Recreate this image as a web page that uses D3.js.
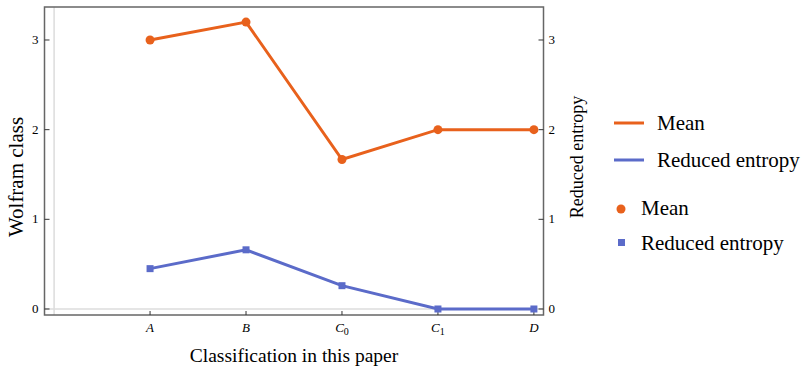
<!DOCTYPE html>
<html>
<head>
    <meta charset="UTF-8">
    <script src="https://cdn.jsdelivr.net/npm/d3@7"></script>
</head>
<body style="margin:0">
    <div id="chart"></div>
    <script>
        // ---------- data ----------
        const categories = ["A", "B", "C0", "C1", "D"];
        const xPos = [1, 2, 3, 4, 5];
        const meanValues = [3, 3.2, 1.667, 2, 2];
        const entropyValues = [0.45, 0.66, 0.26, 0, 0];
        const yTicks = [0, 1, 2, 3];

        const orange = "#e8611c";
        const blue = "#5b6bc9";
        const serif = "Liberation Serif";

        const W = 802, H = 369;
        const plotL = 44.5, plotR = 543.5, plotT = 7, plotB = 315;

        const svg = d3.select("#chart").append("svg")
            .attr("width", W).attr("height", H);

        // helper so every label gets the serif face
        function label(sel) {
            return sel.append("text").attr("font-family", serif);
        }

        const x = d3.scaleLinear().domain([-0.1, 5.1]).range([plotL, plotR]);
        const y = d3.scaleLinear().domain([-0.067, 3.368]).range([plotB, plotT]);

        // light gray lines at x=0 and y=0
        svg.append("line")
            .attr("x1", x(0)).attr("x2", x(0)).attr("y1", plotT).attr("y2", plotB)
            .attr("stroke", "#dcdcdc").attr("stroke-width", 1.5);
        svg.append("line")
            .attr("x1", plotL).attr("x2", plotR).attr("y1", y(0)).attr("y2", y(0))
            .attr("stroke", "#dcdcdc").attr("stroke-width", 1.5);

        // frame
        svg.append("rect")
            .attr("x", plotL).attr("y", plotT)
            .attr("width", plotR - plotL).attr("height", plotB - plotT)
            .attr("fill", "none").attr("stroke", "#666").attr("stroke-width", 1.5);

        // left & right y ticks
        yTicks.forEach(t => {
            svg.append("line").attr("x1", plotL).attr("x2", plotL + 5)
                .attr("y1", y(t)).attr("y2", y(t)).attr("stroke", "#333");
            svg.append("line").attr("x1", plotR - 5).attr("x2", plotR)
                .attr("y1", y(t)).attr("y2", y(t)).attr("stroke", "#333");
            label(svg).attr("x", plotL - 6).attr("y", y(t) + 4)
                .attr("text-anchor", "end").attr("font-size", 13).text(t);
            label(svg).attr("x", plotR + 5).attr("y", y(t) + 4)
                .attr("text-anchor", "start").attr("font-size", 13).text(t);
        });

        // x ticks with labels (italic, subscripts)
        categories.forEach((c, i) => {
            const px = x(xPos[i]);
            svg.append("line").attr("x1", px).attr("x2", px)
                .attr("y1", plotB).attr("y2", plotB - 4).attr("stroke", "#333");
            const t = label(svg).attr("x", px).attr("y", plotB + 17)
                .attr("text-anchor", "middle").attr("font-size", 13);
            t.append("tspan").attr("font-style", "italic").text(c[0]);
            if (c.length > 1) {
                t.append("tspan").attr("font-size", 10).attr("dy", 3).text(c.slice(1));
            }
        });

        // axis labels
        label(svg)
            .attr("transform", `translate(23,177) rotate(-90)`)
            .attr("text-anchor", "middle").attr("font-size", 21).text("Wolfram class");
        label(svg)
            .attr("transform", `translate(583,157) rotate(-90)`)
            .attr("text-anchor", "middle").attr("font-size", 18).text("Reduced entropy");
        label(svg)
            .attr("x", 294).attr("y", 362)
            .attr("text-anchor", "middle").attr("font-size", 19.5).text("Classification in this paper");

        // lines
        const line = d3.line().x((d, i) => x(xPos[i])).y(d => y(d));
        svg.append("path").datum(meanValues).attr("d", line)
            .attr("fill", "none").attr("stroke", orange).attr("stroke-width", 3);
        svg.append("path").datum(entropyValues).attr("d", line)
            .attr("fill", "none").attr("stroke", blue).attr("stroke-width", 3);

        // markers
        svg.selectAll("circle.mean").data(meanValues).enter().append("circle")
            .attr("cx", (d, i) => x(xPos[i])).attr("cy", d => y(d))
            .attr("r", 4.5).attr("fill", orange);
        svg.selectAll("rect.ent").data(entropyValues).enter().append("rect")
            .attr("x", (d, i) => x(xPos[i]) - 3.5).attr("y", d => y(d) - 3.5)
            .attr("width", 7).attr("height", 7).attr("fill", blue);

        // legend
        const lg = svg.append("g");
        lg.append("line").attr("x1", 614).attr("x2", 644).attr("y1", 123).attr("y2", 123)
            .attr("stroke", orange).attr("stroke-width", 3);
        label(lg).attr("x", 657).attr("y", 130).attr("font-size", 21).text("Mean");
        lg.append("line").attr("x1", 614).attr("x2", 644).attr("y1", 160).attr("y2", 160)
            .attr("stroke", blue).attr("stroke-width", 3);
        label(lg).attr("x", 657).attr("y", 167).attr("font-size", 21).text("Reduced entropy");
        lg.append("circle").attr("cx", 621).attr("cy", 209).attr("r", 4.5).attr("fill", orange);
        label(lg).attr("x", 641).attr("y", 215).attr("font-size", 21).text("Mean");
        lg.append("rect").attr("x", 618).attr("y", 239).attr("width", 7).attr("height", 7).attr("fill", blue);
        label(lg).attr("x", 641).attr("y", 250).attr("font-size", 21).text("Reduced entropy");
    </script>
</body>
</html>
